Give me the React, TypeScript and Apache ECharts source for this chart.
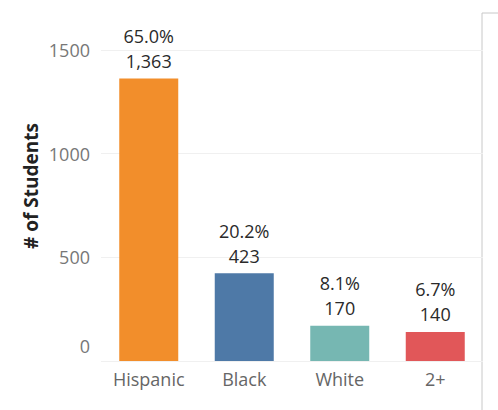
import React, { useEffect, useRef } from "react";
import * as echarts from "echarts";

const categories = ["Hispanic", "Black", "White", "2+"];
const students = [1363, 423, 170, 140];
const percents = ["65.0", "20.2", "8.1", "6.7"];
const colors = ["#F28E2B", "#4E79A7", "#76B7B2", "#E15759"];
const yTicks = { min: 0, max: 1500, interval: 500 };
const yTitle = "# of Students";

const FONT = "'Open Sans', 'Noto Sans', sans-serif";

export default function App() {
  const ref = useRef<HTMLDivElement>(null);
  useEffect(() => {
    if (!ref.current) return;
    const chart = echarts.init(ref.current, null, { renderer: "svg" });
    chart.setOption({
      animation: false,
      textStyle: { fontFamily: FONT },
      grid: { left: 101, right: 15, top: 50, bottom: 49 },
      xAxis: {
        type: "category",
        data: categories,
        axisLine: { show: false },
        axisTick: { show: false },
        axisLabel: { color: "#666", fontSize: 18, fontFamily: FONT, margin: 9 },
      },
      yAxis: {
        type: "value",
        min: yTicks.min,
        max: yTicks.max,
        interval: yTicks.interval,
        axisLine: { show: false },
        axisTick: { show: false },
        splitLine: { lineStyle: { color: "#f0f0f0", width: 1 } },
        axisLabel: {
          color: "#777",
          fontSize: 18,
          fontFamily: FONT,
          margin: 11,
          formatter: (v: number) => (v === 0 ? "{z|0}" : String(v)),
          rich: { z: { color: "#777", fontSize: 18, fontFamily: FONT, padding: [0, 0, 30, 0] } },
        },
      },
      series: [
        {
          type: "bar",
          barWidth: 59,
          data: students.map((v, i) => ({ value: v, itemStyle: { color: colors[i] } })),
          label: {
            show: true,
            position: "top",
            distance: 5,
            color: "#2a2a2a",
            fontSize: 18,
            fontFamily: FONT,
            lineHeight: 25,
            formatter: (p: any) => `${percents[p.dataIndex]}%\n${p.value.toLocaleString("en-US")}`,
          },
        },
      ],
      graphic: [
        {
          type: "text",
          x: 31,
          y: 186,
          rotation: Math.PI / 2,
          style: {
            text: yTitle,
            fill: "#222",
            fontSize: 19,
            fontWeight: "bold",
            fontFamily: FONT,
            align: "center",
            verticalAlign: "middle",
          },
        },
        { type: "line", shape: { x1: 482, y1: 13, x2: 482, y2: 410 }, style: { stroke: "#c8c8c8", lineWidth: 1 } },
        { type: "line", shape: { x1: 482, y1: 13, x2: 498, y2: 13 }, style: { stroke: "#c8c8c8", lineWidth: 1 } },
      ],
    });
    return () => chart.dispose();
  }, []);
  return <div ref={ref} style={{ width: 498, height: 410, position: "absolute", left: 0, top: 0 }} />;
}
